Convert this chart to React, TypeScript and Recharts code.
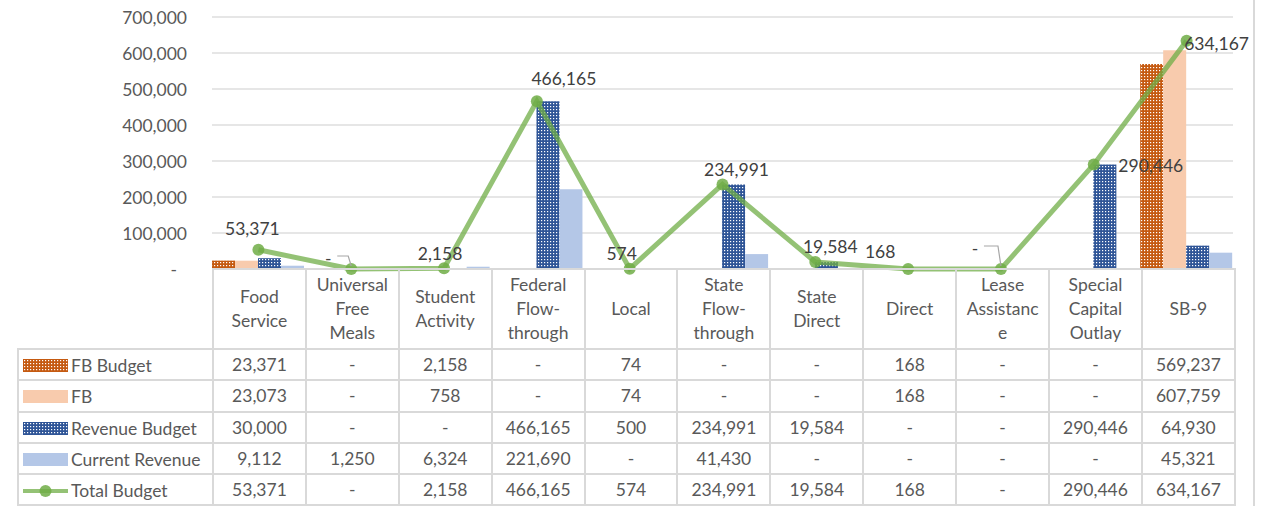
import React from "react";
import { ComposedChart, Bar, Line, XAxis, YAxis, CartesianGrid } from "recharts";

const categories = [
  "Food\nService",
  "Universal\nFree\nMeals",
  "Student\nActivity",
  "Federal\nFlow-\nthrough",
  "Local",
  "State\nFlow-\nthrough",
  "State\nDirect",
  "Direct",
  "Lease\nAssistanc\ne",
  "Special\nCapital\nOutlay",
  "SB-9",
];

const fbBudget = [23371, 0, 2158, 0, 74, 0, 0, 168, 0, 0, 569237];
const fb = [23073, 0, 758, 0, 74, 0, 0, 168, 0, 0, 607759];
const revenueBudget = [30000, 0, 0, 466165, 500, 234991, 19584, 0, 0, 290446, 64930];
const currentRevenue = [9112, 1250, 6324, 221690, 0, 41430, 0, 0, 0, 0, 45321];
const totalBudget = [53371, 0, 2158, 466165, 574, 234991, 19584, 168, 0, 290446, 634167];

const yTicks = [0, 100000, 200000, 300000, 400000, 500000, 600000, 700000];

// label nudges for the Total Budget data labels (dx, dy from the point)
const labelOffsets = [
  [-6, -21], [-23, -11], [-4, -15], [27, -23], [-8, -15], [14, -15],
  [15, -15], [-28, -17], [-26, -21], [57, 1], [30, 3],
];

const FONT = "Lato, 'Open Sans', sans-serif";
const GREEN = "#70AD47";

const series = [
  { key: "fbBudget", name: "FB Budget", fill: "url(#dotsOrange)", swatch: "orange" },
  { key: "fb", name: "FB", fill: "#F8CBAD", swatch: "#F8CBAD" },
  { key: "revenueBudget", name: "Revenue Budget", fill: "url(#dotsBlue)", swatch: "blue" },
  { key: "currentRevenue", name: "Current Revenue", fill: "#B4C7E7", swatch: "#B4C7E7" },
];

const rows = categories.map((c, i) => ({
  category: c,
  fbBudget: fbBudget[i],
  fb: fb[i],
  revenueBudget: revenueBudget[i],
  currentRevenue: currentRevenue[i],
  totalBudget: totalBudget[i],
}));

const fmt = (v: number) => (v === 0 ? "-" : v.toLocaleString("en-US"));

function YTick(props: any) {
  const { x, y, payload } = props;
  const v = payload.value;
  return (
    <text
      x={v === 0 ? x - 10 : x}
      y={y}
      textAnchor="end"
      dominantBaseline="central"
      fontFamily={FONT}
      fontSize={17.5}
      fill="#595959"
    >
      {fmt(v)}
    </text>
  );
}

function LineLabel(props: any) {
  const { x, y, value } = props;
  let index = props.index;
  if (index === undefined) index = Math.round((x - 212) / 92.8 - 0.5);
  const [dx, dy] = labelOffsets[index] || [0, -15];
  const tx = x + dx;
  const ty = y + dy;
  return (
    <g>
      {value === 0 && (
        <path
          d={`M${tx + 9},${ty - 2} H${x - 3} L${x},${y - 3}`}
          fill="none"
          stroke="#A6A6A6"
          strokeWidth={1.2}
        />
      )}
      <text
        x={tx}
        y={ty}
        textAnchor="middle"
        dominantBaseline="central"
        fontFamily={FONT}
        fontSize={17.5}
        fill="#404040"
      >
        {fmt(value)}
      </text>
    </g>
  );
}

function Swatch({ kind }: { kind: string }) {
  if (kind === "line") {
    return (
      <svg width={45} height={14} style={{ verticalAlign: "middle" }}>
        <line x1={0} y1={7} x2={45} y2={7} stroke={GREEN} strokeWidth={4} strokeOpacity={0.75} />
        <circle cx={22.5} cy={7} r={6} fill={GREEN} fillOpacity={0.85} />
      </svg>
    );
  }
  const fill = kind === "orange" ? "url(#dotsOrangeL)" : kind === "blue" ? "url(#dotsBlueL)" : kind;
  return (
    <svg width={45} height={13} style={{ verticalAlign: "middle" }}>
      <defs>
        <pattern id="dotsOrangeL" width={3} height={3} patternUnits="userSpaceOnUse">
          <rect width={3} height={3} fill="#C55A11" />
          <rect x={1} y={1} width={1.2} height={1.2} fill="#fff" />
        </pattern>
        <pattern id="dotsBlueL" width={3} height={3} patternUnits="userSpaceOnUse">
          <rect width={3} height={3} fill="#2F5597" />
          <rect x={1} y={1} width={1.2} height={1.2} fill="#fff" />
        </pattern>
      </defs>
      <rect width={45} height={13} fill={fill} />
    </svg>
  );
}

const border = "2px solid #D9D9D9";

export default function App() {
  const cellStyle: React.CSSProperties = {
    border,
    textAlign: "center",
    padding: 0,
    color: "#595959",
    fontSize: 17.5,
    height: 29.3,
  };
  const tableRows = [
    ...series.map((s) => ({ name: s.name, swatch: s.swatch, values: rows.map((r: any) => r[s.key]) })),
    { name: "Total Budget", swatch: "line", values: totalBudget },
  ];

  return (
    <div style={{ position: "fixed", left: 0, top: 0, width: 1270, height: 506, background: "#fff", overflow: "hidden" }}>
      <ComposedChart
        width={1270}
        height={506}
        data={rows}
        margin={{ top: 17, right: 37, bottom: 237, left: 0 }}
        barCategoryGap={0}
        barGap={0}
      >
        <defs>
          <pattern id="dotsOrange" width={3} height={3} patternUnits="userSpaceOnUse">
            <rect width={3} height={3} fill="#C55A11" />
            <rect x={1} y={1} width={1.2} height={1.2} fill="#fff" />
          </pattern>
          <pattern id="dotsBlue" width={3} height={3} patternUnits="userSpaceOnUse">
            <rect width={3} height={3} fill="#2F5597" />
            <rect x={1} y={1} width={1.2} height={1.2} fill="#fff" />
          </pattern>
        </defs>
        <CartesianGrid vertical={false} stroke="#E6E6E6" strokeWidth={2} />
        <XAxis dataKey="category" hide />
        <YAxis
          width={212}
          domain={[0, 700000]}
          ticks={yTicks}
          axisLine={false}
          tickLine={false}
          tick={<YTick />}
          tickMargin={19}
          interval={0}
        />
        {series.map((s) => (
          <Bar key={s.key} dataKey={s.key} name={s.name} fill={s.fill} isAnimationActive={false} />
        ))}
        <Line
          dataKey="totalBudget"
          name="Total Budget"
          stroke={GREEN}
          strokeWidth={5}
          strokeOpacity={0.75}
          dot={{ r: 6, fill: GREEN, stroke: "none", fillOpacity: 0.85 }}
          activeDot={false}
          label={(p: any) => <LineLabel {...p} />}
          isAnimationActive={false}
        />
      </ComposedChart>

      <table
        style={{
          position: "absolute",
          left: 17,
          top: 268,
          width: 1217,
          borderCollapse: "collapse",
          tableLayout: "fixed",
          fontFamily: FONT,
        }}
      >
        <colgroup>
          <col style={{ width: 195 }} />
          {categories.map((c) => (
            <col key={c} style={{ width: 92.9 }} />
          ))}
        </colgroup>
        <tbody>
          <tr>
            <td style={{ border: "none", height: 77 }} />
            {categories.map((c) => (
              <td
                key={c}
                style={{ ...cellStyle, height: 77, whiteSpace: "pre-line", lineHeight: "24px" }}
              >
                {c}
              </td>
            ))}
          </tr>
          {tableRows.map((r) => (
            <tr key={r.name}>
              <td style={{ ...cellStyle, textAlign: "left", paddingLeft: 4, whiteSpace: "nowrap" }}>
                <Swatch kind={r.swatch} />
                <span style={{ marginLeft: 3, verticalAlign: "middle" }}>{r.name}</span>
              </td>
              {r.values.map((v: number, i: number) => (
                <td key={i} style={cellStyle}>
                  {fmt(v)}
                </td>
              ))}
            </tr>
          ))}
        </tbody>
      </table>
      <div style={{ position: "absolute", left: 1253, top: 0, width: 2, height: 506, background: "#D9D9D9" }} />
    </div>
  );
}
